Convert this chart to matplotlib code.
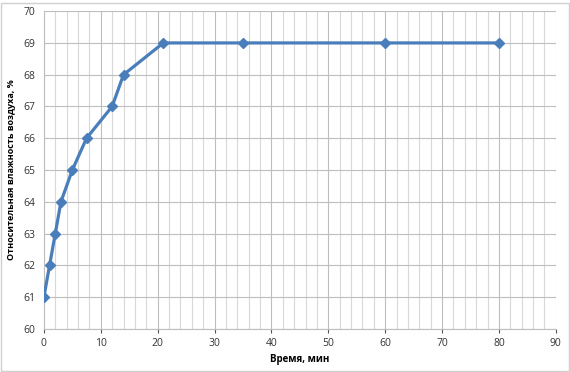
import matplotlib
matplotlib.use("Agg")
import matplotlib.pyplot as plt
from matplotlib.patches import Rectangle

# time, minutes
time_min = [0, 1, 2, 3, 5, 7.5, 12, 14, 21, 35, 60, 80]
# relative humidity, %
humidity = [61, 62, 63, 64, 65, 66, 67, 68, 69, 69, 69, 69]

x_ticks = list(range(0, 91, 10))
y_ticks = list(range(60, 71, 1))

plt.rcParams['font.family'] = ['Open Sans', 'DejaVu Sans']

fig = plt.figure(figsize=(5.7, 3.72), dpi=100)
ax = fig.add_axes([0.077, 0.116, 0.898, 0.854])

# light chart frame
fig.patches.append(Rectangle((0.002, 0.003), 0.996, 0.99, transform=fig.transFigure,
                             fill=False, edgecolor='#d0d0d0', linewidth=1))

ax.plot(time_min, humidity, color='#4a7ebb', linewidth=2.3, marker='D',
        markersize=5, markerfacecolor='#4a7ebb', markeredgecolor='#4a7ebb', zorder=3)

ax.set_xlim(0, 90)
ax.set_ylim(60, 70)
ax.set_xticks(x_ticks)
ax.set_xticks(list(range(0, 91, 2)), minor=True)
ax.set_yticks(y_ticks)

ax.grid(which='major', color='#bebebe', linewidth=0.8)
ax.grid(which='minor', axis='x', color='#d8d8d8', linewidth=0.8)

for side in ['top', 'right']:
    ax.spines[side].set_visible(False)
ax.spines['left'].set_color('#bebebe')
ax.spines['bottom'].set_color('#bebebe')

ax.tick_params(axis='both', which='major', labelsize=7.5, colors='#555555',
               labelcolor='#333333', length=3)
ax.tick_params(axis='y', length=0, pad=6)
ax.tick_params(axis='x', which='minor', length=0)

ax.set_xlabel('Время, мин', fontsize=7, fontweight='bold', labelpad=4)
ax.set_ylabel('Относительная влажность воздуха, %', fontsize=6.5, fontweight='bold')
ax.yaxis.set_label_coords(-0.055, 0.5)

fig.savefig('out.png', dpi=100)
